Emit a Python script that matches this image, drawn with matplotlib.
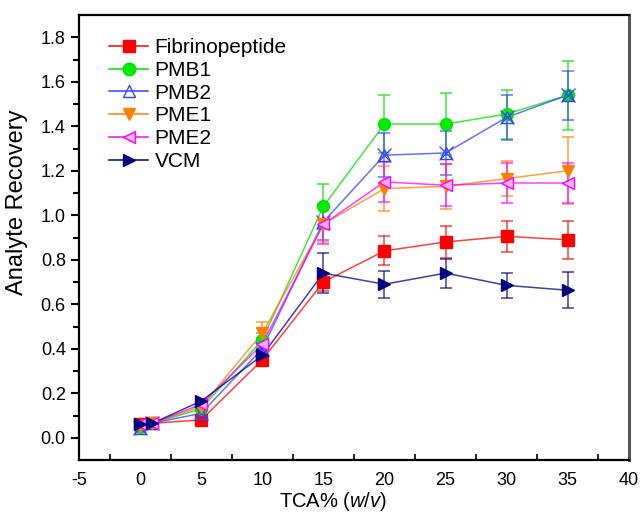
"""Analyte recovery vs TCA concentration."""

import matplotlib
matplotlib.use("Agg")
import matplotlib.pyplot as plt
from matplotlib.lines import Line2D

plt.rcParams["font.family"] = ["Liberation Sans", "DejaVu Sans"]
plt.rcParams["mathtext.fontset"] = "custom"
plt.rcParams["mathtext.it"] = "Liberation Sans:italic"
plt.rcParams["mathtext.rm"] = "Liberation Sans"
plt.rcParams["axes.unicode_minus"] = False

tca = [0, 1, 5, 10, 15, 20, 25, 30, 35]

fibrino = [0.06, 0.065, 0.08, 0.35, 0.70, 0.84, 0.88, 0.905, 0.89]
fibrino_err = [0.01, 0.01, 0.01, 0.02, 0.04, 0.065, 0.07, 0.07, 0.085]
pmb1 = [0.05, 0.065, 0.13, 0.44, 1.04, 1.41, 1.41, 1.455, 1.54]
pmb1_err = [0.01, 0.01, 0.01, 0.03, 0.10, 0.13, 0.14, 0.11, 0.155]
pmb2 = [0.045, 0.065, 0.11, 0.40, 0.97, 1.27, 1.28, 1.44, 1.54]
pmb2_err = [0.01, 0.01, 0.01, 0.03, 0.08, 0.10, 0.10, 0.10, 0.11]
pme1 = [0.055, 0.065, 0.14, 0.47, 0.96, 1.12, 1.13, 1.165, 1.20]
pme1_err = [0.01, 0.01, 0.01, 0.05, 0.08, 0.10, 0.10, 0.08, 0.15]
pme2 = [0.06, 0.065, 0.15, 0.42, 0.96, 1.15, 1.135, 1.145, 1.145]
pme2_err = [0.01, 0.01, 0.01, 0.03, 0.09, 0.09, 0.095, 0.09, 0.09]
vcm = [0.06, 0.065, 0.165, 0.37, 0.74, 0.69, 0.74, 0.685, 0.663]
vcm_err = [0.01, 0.01, 0.01, 0.03, 0.09, 0.06, 0.065, 0.055, 0.08]

series = [
    ("Fibrinopeptide", fibrino, fibrino_err, "#ff0000", "s", "#ff0000"),
    ("PMB1", pmb1, pmb1_err, "#00e000", "o", "#00ee00"),
    ("PMB2", pmb2, pmb2_err, "#3344ff", "^", "none"),
    ("PME1", pme1, pme1_err, "#ff8000", "v", "#ff8000"),
    ("PME2", pme2, pme2_err, "#ff00ff", "<", "#ffb0ff"),
    ("VCM", vcm, vcm_err, "#000080", ">", "#000080"),
]

fig = plt.figure(figsize=(6.43, 5.15), dpi=100)
ax = fig.add_axes([0.1229, 0.1068, 0.855, 0.864])

handles = []
for name, y, err, color, marker, face in series:
    ax.errorbar(tca, y, yerr=err, color=color, lw=1.1, alpha=0.75,
                capsize=4, capthick=1.1, elinewidth=1.1, fmt="none", zorder=2)
    ax.plot(tca, y, color=color, lw=1.1, alpha=0.75, zorder=2)
    ax.plot(tca, y, ls="none", marker=marker, ms=8.5, mfc=face, mec=color,
            mew=1.0, zorder=3)
    if name == "PMB2":
        ax.plot(tca, y, ls="none", marker="x", ms=10, mec=color, mew=0.9, zorder=3)
    handles.append(Line2D([], [], color=color, lw=1.1, marker=marker, ms=9,
                          mfc=face, mec=color))

ax.set_xlim(-5, 40)
ax.set_ylim(-0.1, 1.9)
ax.set_xticks(range(-5, 41, 5))
ax.set_xticks([x + 2.5 for x in range(-5, 40, 5)], minor=True)
ax.set_yticks([i * 0.2 for i in range(10)])
ax.set_yticks([i * 0.2 + 0.1 for i in range(9)], minor=True)
ax.yaxis.set_major_formatter(plt.FuncFormatter(lambda v, p: f"{v:.1f}"))

ax.tick_params(axis="y", which="major", direction="out", length=6, width=1.5,
               labelsize=13)
ax.tick_params(axis="y", which="minor", direction="out", length=4, width=1.5)
ax.tick_params(axis="x", which="major", direction="in", length=0, pad=9,
               labelsize=13)
ax.tick_params(axis="x", which="minor", direction="in", length=4, width=1.2)

for side in ["left", "bottom", "top"]:
    ax.spines[side].set_linewidth(1.6)
ax.spines["right"].set_linewidth(2.2)
ax.spines["right"].set_color("#555555")

ax.set_xlabel(r"TCA% ($\it{w/v}$)", fontsize=14.5)
ax.xaxis.set_label_coords(0.462, -0.068)
ax.set_ylabel("Analyte Recovery", fontsize=17)
ax.yaxis.set_label_coords(-0.093, 0.58)

leg = ax.legend(handles, [s[0] for s in series], loc="upper left",
                bbox_to_anchor=(0.02, 0.99), frameon=False, fontsize=15,
                handlelength=1.9, labelspacing=0.18, handletextpad=0.3)

fig.savefig("out.png", dpi=100)
